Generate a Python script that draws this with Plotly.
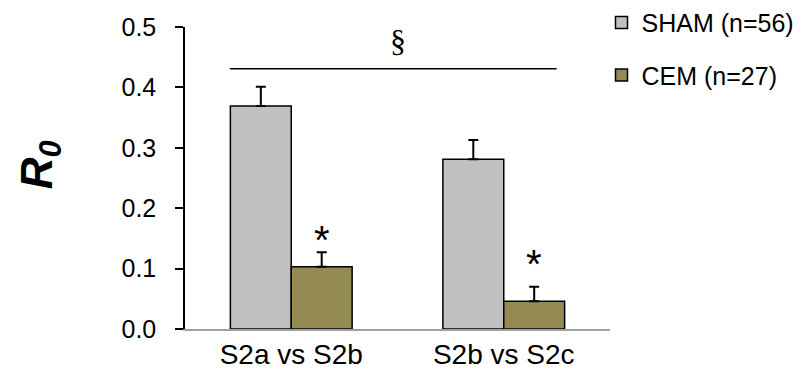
import plotly.graph_objects as go

categories = ["S2a vs S2b", "S2b vs S2c"]
sham_values = [0.369, 0.281]
sham_err = [0.032, 0.032]
cem_values = [0.103, 0.046]
cem_err = [0.024, 0.024]
y_ticks = [0.0, 0.1, 0.2, 0.3, 0.4, 0.5]
y_tick_labels = ["0.0", "0.1", "0.2", "0.3", "0.4", "0.5"]

SHAM_COLOR = "#C0C0C0"
CEM_COLOR = "#948A54"

fig = go.Figure()
fig.add_trace(go.Bar(
    x=categories, y=sham_values, name="SHAM (n=56)",
    marker=dict(color=SHAM_COLOR, line=dict(color="black", width=1.5)),
    error_y=dict(type="data", array=sham_err, arrayminus=[0, 0], symmetric=False,
                 color="black", thickness=2, width=5),
    legendgroup="a",
))
fig.add_trace(go.Bar(
    x=categories, y=cem_values, name="CEM (n=27)",
    marker=dict(color=CEM_COLOR, line=dict(color="black", width=1.5)),
    error_y=dict(type="data", array=cem_err, arrayminus=[0, 0], symmetric=False,
                 color="black", thickness=2, width=5),
    legendgroup="b",
))

# significance bracket line and markers
fig.add_shape(type="line", xref="x", yref="y", x0=-0.289, x1=1.249, y0=0.431, y1=0.431,
              line=dict(color="black", width=1.5))
fig.add_annotation(x=0.5, y=0.477, xref="x", yref="y", text="§", showarrow=False,
                   font=dict(family="Liberation Serif", size=32, color="black"), yanchor="middle")
fig.add_annotation(x=0.143, y=0.148, xref="x", yref="y", text="*", showarrow=False,
                   font=dict(family="Liberation Sans", size=40, color="black"), yanchor="middle")
fig.add_annotation(x=1.143, y=0.108, xref="x", yref="y", text="*", showarrow=False,
                   font=dict(family="Liberation Sans", size=40, color="black"), yanchor="middle")

# y-axis title
fig.add_annotation(x=-0.27, y=0.543, xref="paper", yref="paper",
                   text="<b><i>R<sub>0</sub></i></b>", textangle=-90, showarrow=False,
                   xanchor="right", yanchor="middle",
                   font=dict(family="Liberation Sans", size=44, color="black"))

fig.update_layout(
    width=801, height=375,
    margin=dict(l=177, r=199, t=19, b=54, autoexpand=False),
    paper_bgcolor="white", plot_bgcolor="white",
    barmode="group", bargap=0.427, bargroupgap=0,
    font=dict(family="Liberation Sans, Arial", size=25, color="black"),
    showlegend=True,
    legend=dict(x=0.98, y=1.09, xanchor="left", yanchor="top",
                font=dict(size=25), tracegroupgap=17, traceorder="grouped",
                itemwidth=30, bgcolor="rgba(0,0,0,0)"),
    xaxis=dict(range=[-0.5, 1.5], showline=True, linecolor="#A0A0A0", linewidth=1.5,
               ticks="", showgrid=False, zeroline=False, automargin=False,
               tickfont=dict(size=28), ticklabelstandoff=0),
    yaxis=dict(range=[0, 0.5], tickvals=y_ticks, ticktext=y_tick_labels,
               showline=True, linecolor="black", linewidth=1.5,
               ticks="outside", ticklen=8, tickwidth=1.5, tickcolor="black",
               showgrid=False, zeroline=False, tickfont=dict(size=25),
               ticklabelstandoff=14, automargin=False),
)

fig.write_html("out.html")
